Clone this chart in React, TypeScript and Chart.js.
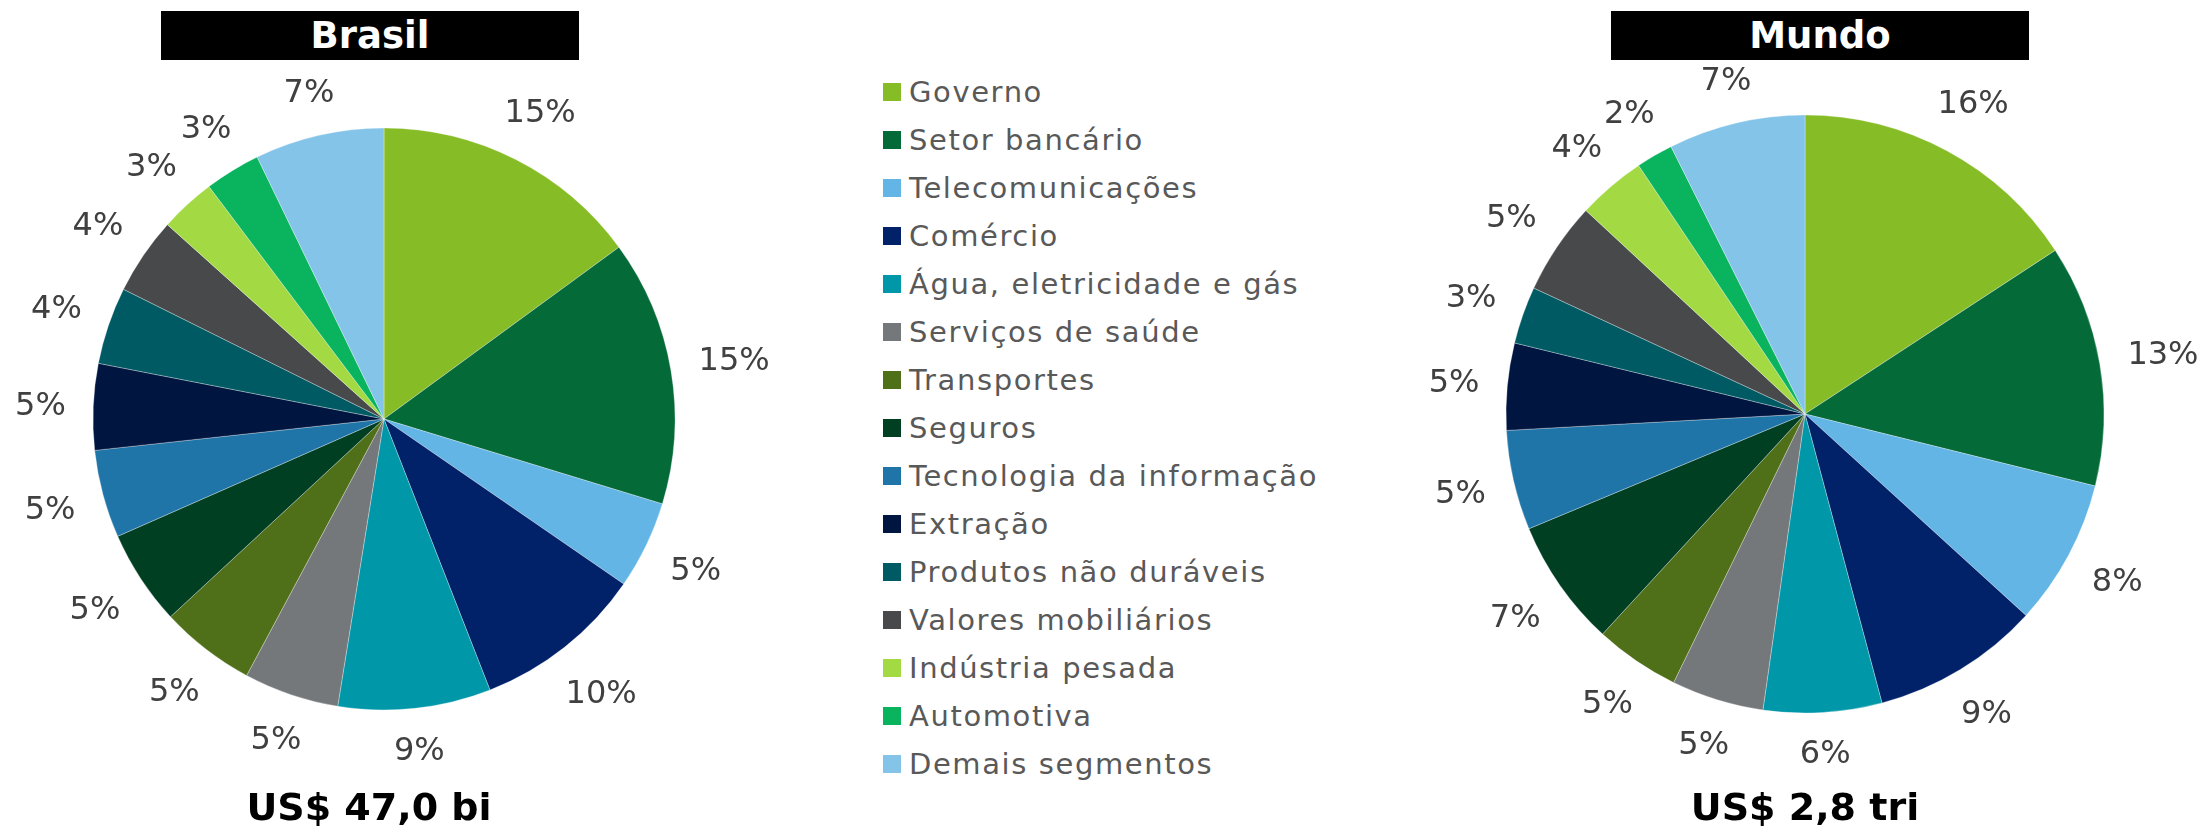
import React, { useEffect, useRef } from "react";
import { Chart, registerables } from "chart.js";

Chart.register(...registerables);

const categories = [
  "Governo",
  "Setor bancário",
  "Telecomunicações",
  "Comércio",
  "Água, eletricidade e gás",
  "Serviços de saúde",
  "Transportes",
  "Seguros",
  "Tecnologia da informação",
  "Extração",
  "Produtos não duráveis",
  "Valores mobiliários",
  "Indústria pesada",
  "Automotiva",
  "Demais segmentos",
];

const colors = [
  "#86BC25",
  "#046A38",
  "#62B5E5",
  "#012169",
  "#0097A9",
  "#75787B",
  "#4F6F18",
  "#013F23",
  "#1F75A8",
  "#001540",
  "#005A64",
  "#48494B",
  "#A3DA43",
  "#0AB45F",
  "#84C4E9",
];

const brasilValues = [15, 14.8, 4.9, 9.5, 8.5, 5.3, 5.3, 5.3, 4.9, 4.8, 4.3, 4.3, 3.1, 3.1, 7.2];
const mundoValues = [15.8, 13.1, 7.9, 9.1, 6.4, 5, 4.6, 6.9, 5.4, 4.7, 3.1, 5, 3.7, 2, 7.4];

const brasilTitle = "Brasil";
const mundoTitle = "Mundo";
const brasilTotal = "US$ 47,0 bi";
const mundoTotal = "US$ 2,8 tri";

const LABEL_FONT = "32px 'DejaVu Sans', Verdana, sans-serif";

const outsideLabels = {
  id: "outsideLabels",
  afterDatasetsDraw(chart: any) {
    const ctx = chart.ctx;
    const meta = chart.getDatasetMeta(0);
    const data = chart.data.datasets[0].data as number[];
    ctx.save();
    ctx.font = LABEL_FONT;
    ctx.fillStyle = "#404040";
    ctx.textAlign = "center";
    ctx.textBaseline = "middle";
    meta.data.forEach((arc: any, i: number) => {
      const { x, y, startAngle, endAngle, outerRadius } = arc.getProps(
        ["x", "y", "startAngle", "endAngle", "outerRadius"],
        true
      );
      const mid = (startAngle + endAngle) / 2;
      const text = Math.round(data[i]) + "%";
      const w = ctx.measureText(text).width;
      const h = 24;
      const dx = Math.cos(mid);
      const dy = Math.sin(mid);
      const ext = Math.abs(dx) * (w / 2) + Math.abs(dy) * (h / 2);
      const r = outerRadius + 27 + ext;
      ctx.fillText(text, x + dx * r, y + dy * r + 2);
    });
    ctx.restore();
  },
};

function PieChart(props: { values: number[]; radius: number; cx: number; cy: number }) {
  const ref = useRef<HTMLCanvasElement>(null);
  const margin = 100;
  const size = 2 * (props.radius + margin);
  useEffect(() => {
    if (!ref.current) return;
    const chart = new Chart(ref.current, {
      type: "pie",
      data: {
        labels: categories,
        datasets: [
          {
            data: props.values,
            backgroundColor: colors,
            borderColor: "rgba(255,255,255,0.6)",
            borderWidth: 0.5,
            radius: props.radius,
            hoverOffset: 0,
          } as any,
        ],
      },
      options: {
        responsive: false,
        animation: false,
        rotation: 0,
        layout: { padding: 0 },
        plugins: {
          legend: { display: false },
          tooltip: { enabled: false },
          title: { display: false },
        },
        events: [],
      },
      plugins: [outsideLabels],
    });
    return () => chart.destroy();
  }, []);
  return (
    <canvas
      ref={ref}
      width={size}
      height={size}
      style={{
        position: "absolute",
        left: props.cx - size / 2,
        top: props.cy - size / 2,
        width: size,
        height: size,
      }}
    />
  );
}

function TitleBox(props: { text: string; left: number; width: number }) {
  return (
    <div
      style={{
        position: "absolute",
        left: props.left,
        top: 11,
        width: props.width,
        height: 49,
        background: "#000",
        color: "#fff",
        fontFamily: "'DejaVu Sans', Verdana, sans-serif",
        fontWeight: "bold",
        fontSize: 37,
        lineHeight: "49px",
        textAlign: "center",
      }}
    >
      {props.text}
    </div>
  );
}

function Total(props: { text: string; center: number }) {
  return (
    <div
      style={{
        position: "absolute",
        left: props.center - 200,
        width: 400,
        top: 785,
        height: 44,
        lineHeight: "44px",
        textAlign: "center",
        fontFamily: "'DejaVu Sans', Verdana, sans-serif",
        fontWeight: "bold",
        fontSize: 38,
        color: "#000",
      }}
    >
      {props.text}
    </div>
  );
}

function Legend() {
  return (
    <div style={{ position: "absolute", left: 883, top: 68, width: 480 }}>
      {categories.map((c, i) => (
        <div
          key={c}
          style={{
            position: "absolute",
            left: 0,
            top: i * 48,
            height: 48,
            display: "flex",
            alignItems: "center",
            whiteSpace: "nowrap",
          }}
        >
          <div style={{ width: 18, height: 18, background: colors[i], marginRight: 8 }} />
          <span
            style={{
              fontFamily: "'DejaVu Sans', Verdana, sans-serif",
              fontSize: 29,
              letterSpacing: 1.6,
              color: "#595959",
              lineHeight: "48px",
            }}
          >
            {c}
          </span>
        </div>
      ))}
    </div>
  );
}

export default function App() {
  return (
    <div
      style={{
        position: "fixed",
        left: 0,
        top: 0,
        width: 2200,
        height: 826,
        background: "#fff",
        overflow: "hidden",
      }}
    >
      <TitleBox text={brasilTitle} left={161} width={418} />
      <TitleBox text={mundoTitle} left={1611} width={418} />
      <PieChart values={brasilValues} radius={291} cx={384} cy={419} />
      <PieChart values={mundoValues} radius={299} cx={1805} cy={414} />
      <Legend />
      <Total text={brasilTotal} center={369} />
      <Total text={mundoTotal} center={1805} />
    </div>
  );
}
